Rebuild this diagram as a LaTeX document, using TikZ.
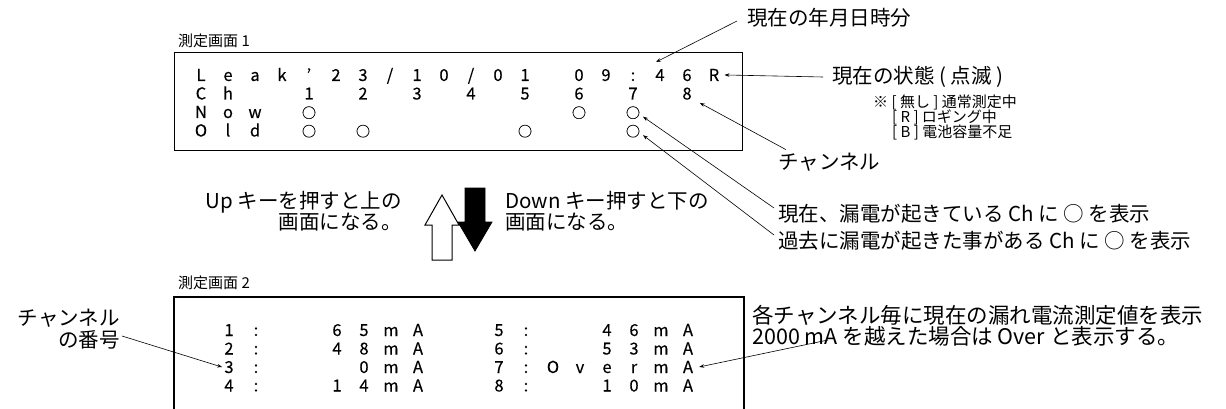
\documentclass[tikz,border=0pt]{standalone}
\usepackage{fontspec}
\setmainfont{Noto Sans CJK JP}
\newfontface\scrfont[FakeBold=0.25]{Noto Sans CJK JP}
\usetikzlibrary{arrows.meta,calc}
\newcommand\slsh{/}
\newcommand\scrcirc{{\fontsize{14}{14}\selectfont ○}}
\begin{document}
\begin{tikzpicture}[x=1pt,y=-1pt,
  sc/.style={font=\scrfont\fontsize{16.5}{17}\selectfont, anchor=base, inner sep=0pt},
  lab/.style={font=\fontsize{20.5}{21.5}\selectfont, inner sep=0pt, anchor=west},
  note/.style={font=\fontsize{15}{15}\selectfont, inner sep=0pt, anchor=west},
  ttl/.style={font=\fontsize{15}{15}\selectfont, inner sep=0pt, anchor=west},
  arr/.style={-{Stealth[length=5pt,width=3.5pt]}, line width=0.6pt},
  frame/.style={line width=1.3pt},
]
\useasboundingbox (0,0) rectangle (1226,409);

% ---- screen 1 ----
\node[ttl] (t1) at (178,41) {測定画面 1};
\node[frame, draw, minimum width=568pt, minimum height=98pt, inner sep=0pt, anchor=north west] (scr1) at (174,52) {};
\foreach \c/\t in {0/L,1/e,2/a,3/k,4/’,5/2,6/3,7/\slsh,8/1,9/0,10/\slsh,11/0,12/1,14/0,15/9,16/:,17/4,18/6,19/R}
  \node[sc] (r1-\c) at ({201+27*\c},81) {\t};
\foreach \c/\t in {0/C,1/h,4/1,6/2,8/3,10/4,12/5,14/6,16/7,18/8}
  \node[sc] (r2-\c) at ({201+27*\c},99.5) {\t};
\foreach \c/\t in {0/N,1/o,2/w,4/\scrcirc,14/\scrcirc,16/\scrcirc}
  \node[sc] (r3-\c) at ({201+27*\c},118) {\t};
\foreach \c/\t in {0/O,1/l,2/d,4/\scrcirc,6/\scrcirc,12/\scrcirc,16/\scrcirc}
  \node[sc] (r4-\c) at ({201+27*\c},136.5) {\t};

% ---- labels right of screen 1 ----
\node[lab] (ymd) at (747,18) {現在の年月日時分};
\node[lab] (state) at (832,77) {現在の状態 ( 点滅 )};
\node[note] (n1) at (873,102) {※ [ 無し ] 通常測定中};
\node[note] (n2) at (892,117) {[ R ] ロギング中};
\node[note] (n3) at (892,132) {[ B ] 電池容量不足};
\node[lab] (chan) at (778,162) {チャンネル};
\node[lab] (now) at (778,214) {現在、漏電が起きている Ch に ○ を表示};
\node[lab] (old) at (778,241) {過去に漏電が起きた事がある Ch に ○ を表示};

\draw[arr] ($(ymd.west)+(-10,3)$) -- ($(r1-17.north)+(-4,-7)$);
\draw[arr] ($(state.west)+(-9,0)$) -- ($(r1-19.east)+(5,0)$);
\draw[arr] ($(chan.north west)+(8,-3)$) -- ($(r2-18.south east)+(8,3)$);
\draw[arr] ($(now.west)+(-4,-6)$) -- ($(r3-16.center)+(10,4)$);
\draw[arr] ($(old.west)+(-4,-6)$) -- ($(r4-16.center)+(10,4)$);

% ---- up / down ----
\node[lab, anchor=east, align=right] (up) at (402,211) {Up キーを押すと上の\\画面になる。};
\node[lab, align=left] (down) at (505,211) {Down キー押すと下の\\画面になる。};
\draw[line width=1pt, fill=white] (432,260) -- (432,225) -- (425,225) -- (442,195) -- (459,225) -- (452,225) -- (452,260) -- cycle;
\draw[line width=0.8pt, fill=black] (465,188) -- (485,188) -- (485,222) -- (492,222) -- (475,251) -- (458,222) -- (465,222) -- cycle;

% ---- screen 2 ----
\node[ttl] (t2) at (178,283) {測定画面 2};
\draw[frame] (174,409) -- (174,297) -- (744,297) -- (744,409);
\foreach \c/\t in {1/1,2/:,5/6,6/5,7/m,8/A,11/5,12/:,15/4,16/6,17/m,18/A}
  \node[sc] (b1-\c) at ({202+27*\c},336) {\t};
\foreach \c/\t in {1/2,2/:,5/4,6/8,7/m,8/A,11/6,12/:,15/5,16/3,17/m,18/A}
  \node[sc] (b2-\c) at ({202+27*\c},354.5) {\t};
\foreach \c/\t in {1/3,2/:,6/0,7/m,8/A,11/7,12/:,13/O,14/v,15/e,16/r,17/m,18/A}
  \node[sc] (b3-\c) at ({202+27*\c},373) {\t};
\foreach \c/\t in {1/4,2/:,5/1,6/4,7/m,8/A,11/8,12/:,15/1,16/0,17/m,18/A}
  \node[sc] (b4-\c) at ({202+27*\c},391.5) {\t};

\node[lab, anchor=east, align=right] (num) at (120,329) {チャンネル\\の番号};
\node[lab, align=left, font=\fontsize{21.5}{20.5}\selectfont] (over) at (752,326) {各チャンネル毎に現在の漏れ電流測定値を表示\\2000 mA を越えた場合は Over と表示する。};

\draw[arr] ($(num.east)+(2,7)$) -- ($(b3-1.west)+(-2,0)$);
\draw[arr] ($(over.west)+(76,14)$) -- ($(b3-18.east)+(6,0)$);
\end{tikzpicture}
\end{document}
